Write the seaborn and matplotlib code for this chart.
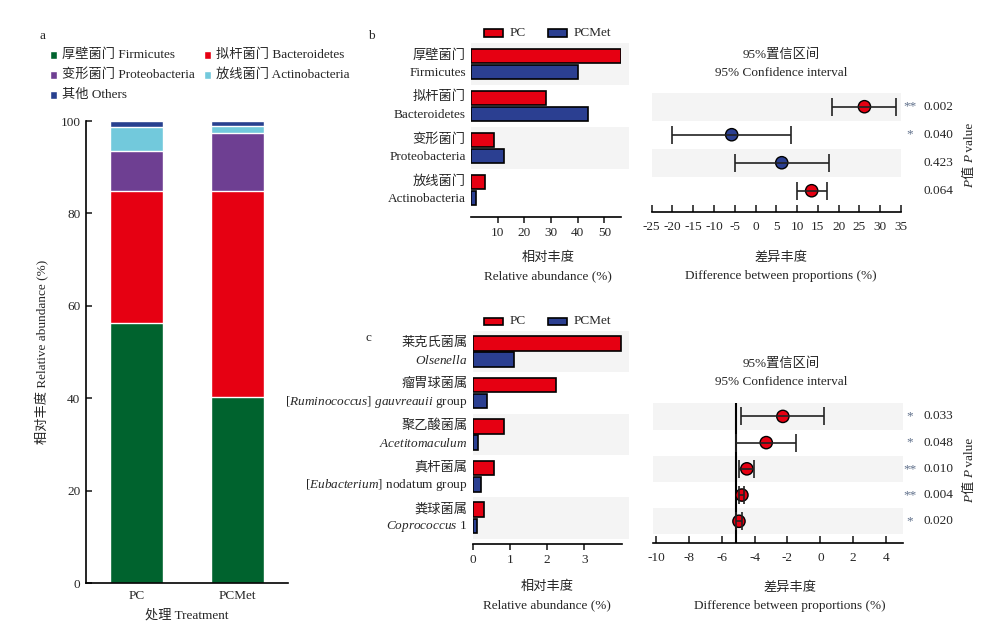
import numpy as np
import pandas as pd
import seaborn as sns
import matplotlib.pyplot as plt
from matplotlib import transforms
from matplotlib.patches import Rectangle

# ---- data ----
treatments = ['PC', 'PCMet']
stack_names = ['厚壁菌门 Firmicutes', '拟杆菌门 Bacteroidetes', '变形菌门 Proteobacteria',
               '放线菌门 Actinobacteria', '其他 Others']
stack_pc = [56.3, 28.5, 8.6, 5.4, 1.2]
stack_pcmet = [40.3, 44.5, 12.5, 1.7, 1.0]

phylum_cn = ['厚壁菌门', '拟杆菌门', '变形菌门', '放线菌门']
phylum_en = ['Firmicutes', 'Bacteroidetes', 'Proteobacteria', 'Actinobacteria']
phylum_pc = [56.1, 28.1, 8.6, 5.4]
phylum_pcmet = [40.2, 44.0, 12.5, 1.9]
phylum_diff = [26.2, -5.75, 6.3, 13.5]
phylum_lo = [18.5, -20.0, -5.0, 9.9]
phylum_hi = [33.9, 8.5, 17.7, 17.3]
phylum_dot = ['PC', 'PCMet', 'PCMet', 'PC']
phylum_sig = ['**', '*', '', '']
phylum_p = ['0.002', '0.040', '0.423', '0.064']

genus_cn = ['莱克氏菌属', '瘤胃球菌属', '聚乙酸菌属', '真杆菌属', '粪球菌属']
genus_en = [r'$\mathit{Olsenella}$',
            r'[$\mathit{Ruminococcus}$] $\mathit{gauvreauii}$ group',
            r'$\mathit{Acetitomaculum}$',
            r'[$\mathit{Eubacterium}$] nodatum group',
            r'$\mathit{Coprococcus\ 1}$']
genus_pc = [3.98, 2.24, 0.85, 0.57, 0.31]
genus_pcmet = [1.12, 0.39, 0.15, 0.21, 0.12]
genus_diff = [-2.28, -3.29, -4.47, -4.77, -4.95]
genus_lo = [-4.83, -5.12, -4.92, -4.93, -5.13]
genus_hi = [0.25, -1.47, -4.02, -4.64, -4.78]
genus_dot = ['PC', 'PC', 'PC', 'PC', 'PC']
genus_sig = ['*', '*', '**', '**', '*']
genus_p = ['0.033', '0.048', '0.010', '0.004', '0.020']

stack_colors = ['#00632e', '#e60012', '#6e3f92', '#72c9dc', '#27408f']
pal = {'PC': '#e60012', 'PCMet': '#2b3f91'}
band = '#f4f4f4'
star_col = '#5f6f8a'

sns.set_style('white')
plt.rcParams['font.family'] = ['Liberation Serif', 'Noto Sans CJK SC']
plt.rcParams['font.size'] = 9.5
plt.rcParams['mathtext.fontset'] = 'custom'
plt.rcParams['mathtext.rm'] = 'Liberation Serif'
plt.rcParams['mathtext.it'] = 'Liberation Serif:italic'
plt.rcParams['axes.linewidth'] = 1.2
plt.rcParams['axes.unicode_minus'] = False

W, H = 1000, 633
fig = plt.figure(figsize=(10, 6.33), dpi=100)


def rect(x0, y0, x1, y1):
    return [x0 / W, 1 - y1 / H, (x1 - x0) / W, (y1 - y0) / H]


def fx(x):
    return x / W


def fy(y):
    return 1 - y / H


def clean(ax, left=False):
    for s in ['top', 'right']:
        ax.spines[s].set_visible(False)
    ax.spines['left'].set_visible(left)
    for s in ax.spines.values():
        s.set_color('black')


# ---- panel a: stacked bars ----
axa = fig.add_axes(rect(86, 121, 288, 583))
cum_pc = np.cumsum(stack_pc)
cum_pcmet = np.cumsum(stack_pcmet)
for i in reversed(range(len(stack_names))):
    d = pd.DataFrame({'treat': treatments, 'top': [cum_pc[i], cum_pcmet[i]]})
    sns.barplot(d, x='treat', y='top', color=stack_colors[i], saturation=1,
                width=0.515, ax=axa)
axa.set_xlim(-0.5, 1.5)
axa.set_ylim(0, 100)
axa.set_yticks([0, 20, 40, 60, 80, 100])
clean(axa, left=True)
axa.tick_params(axis='y', direction='in', length=4, width=1.2, pad=4, left=True)
axa.tick_params(axis='x', length=0, pad=5)
axa.set_ylabel('相对丰度 Relative abundance (%)', labelpad=8)
axa.set_xlabel('处理 Treatment', labelpad=5)
fig.text(fx(40), fy(36), 'a', va='center')

# legend of panel a
leg_pos = [(50, 55), (50, 75), (50, 95), (204, 55), (204, 75)]
for (lx, ly), i in zip(leg_pos, [0, 2, 4, 1, 3]):
    fig.patches.append(Rectangle((fx(lx), fy(ly + 3.5)), 7 / W, 7 / H,
                                 transform=fig.transFigure, facecolor=stack_colors[i]))
    fig.text(fx(lx + 12), fy(ly), stack_names[i], va='center')


def bar_panel(box, cn, en, pc, pcmet, xmax, ticks, ybottom, width):
    ax = fig.add_axes(rect(*box))
    n = len(cn)
    df = pd.DataFrame({'taxon': cn + cn, 'value': pc + pcmet,
                       'group': ['PC'] * n + ['PCMet'] * n})
    sns.barplot(df, x='value', y='taxon', hue='group', palette=pal, orient='h',
                saturation=1, width=width, gap=0.1, edgecolor='black',
                linewidth=1.2, legend=False, ax=ax)
    for i in range(0, n, 2):
        ax.axhspan(i - 0.5, i + 0.5, xmin=0, xmax=1.05, color=band, zorder=0,
                   clip_on=False, lw=0)
    ax.set_xlim(0, xmax)
    ax.set_ylim(ybottom, -0.5)
    ax.set_xticks(ticks)
    ax.set_yticks([])
    ax.set_xlabel('')
    ax.set_ylabel('')
    clean(ax)
    ax.tick_params(axis='x', direction='out', length=4, width=1.2, pad=3, bottom=True)
    tr = ax.get_yaxis_transform()
    for i in range(n):
        ax.text(-0.035, i - 0.21, cn[i], transform=tr, ha='right', va='center')
        ax.text(-0.035, i + 0.21, en[i], transform=tr, ha='right', va='center')
    return ax


def ci_panel(box, diff, lo, hi, dots, sig, pv, xlim, ticks, ybottom, pycenter):
    ax = fig.add_axes(rect(*box))
    n = len(diff)
    ypos = np.arange(n)
    diff = np.array(diff)
    xerr = [diff - np.array(lo), np.array(hi) - diff]
    for i in range(0, n, 2):
        ax.axhspan(i - 0.5, i + 0.5, color=band, zorder=0, lw=0)
    sns.scatterplot(x=diff, y=ypos, hue=dots, palette=pal, s=78, edgecolor='black',
                    linewidth=1, zorder=2, legend=False, ax=ax)
    ax.errorbar(diff, ypos, xerr=xerr, fmt='none', ecolor='#222222', elinewidth=1.2,
                capsize=6.5, capthick=1.2, zorder=3)
    ax.set_xlim(*xlim)
    ax.set_ylim(ybottom, -0.5)
    ax.set_xticks(ticks)
    ax.set_yticks([])
    clean(ax)
    ax.tick_params(axis='x', direction='in', length=5, width=1.2, pad=6, bottom=True)
    tr = transforms.blended_transform_factory(fig.transFigure, ax.transData)
    for i in range(n):
        ax.text(fx(910), i, sig[i], transform=tr, ha='center', va='center', color=star_col)
        ax.text(fx(923), i, pv[i], transform=tr, ha='left', va='center')
    # rotated P label
    parts = [('P', 'italic'), ('值 ', 'normal'), ('P', 'italic'), (' value', 'normal')]
    r = fig.canvas.get_renderer()
    objs = [fig.text(fx(970), 0, s, rotation=90, ha='center', va='bottom', style=st)
            for s, st in parts]
    hs = [o.get_window_extent(r).height / H for o in objs]
    y = fy(pycenter) - sum(hs) / 2
    for o, h in zip(objs, hs):
        o.set_y(y)
        y += h
    return ax


def legend_bg(y):
    for (x0, name) in [(484.3, 'PC'), (548.3, 'PCMet')]:
        fig.patches.append(Rectangle((fx(x0), fy(y + 3.5)), 19 / W, 7 / H,
                                     transform=fig.transFigure, facecolor=pal[name],
                                     edgecolor='black', lw=1.2))
        fig.text(fx(x0 + 25), fy(y), name, va='center')


def two_line(x, y1, s1, s2):
    fig.text(fx(x), fy(y1), s1, ha='center', va='center')
    fig.text(fx(x), fy(y1 + 18), s2, ha='center', va='center')


# ---- panel b ----
fig.text(fx(368), fy(36), 'b', va='center')
legend_bg(33)
bar_panel((471, 43, 621, 217), phylum_cn, phylum_en, phylum_pc, phylum_pcmet,
          56.2, [10, 20, 30, 40, 50], 3.64, 0.76)
ci_panel((651.7, 92.7, 901, 212.3), phylum_diff, phylum_lo, phylum_hi, phylum_dot,
         phylum_sig, phylum_p, (-25, 35), np.arange(-25, 36, 5), 3.77, 155)
two_line(548, 258, '相对丰度', 'Relative abundance (%)')
two_line(781, 258, '差异丰度', 'Difference between proportions (%)')
two_line(781, 55, '95%置信区间', '95% Confidence interval')

# ---- panel c ----
fig.text(fx(365), fy(338), 'c', va='center')
legend_bg(321)
bar_panel((472.7, 330.7, 621.7, 544), genus_cn, genus_en, genus_pc, genus_pcmet,
          4.0, [0, 1, 2, 3], 4.63, 0.78)
axc = ci_panel((652.7, 403.3, 903.3, 543.3), genus_diff, genus_lo, genus_hi, genus_dot,
               genus_sig, genus_p, (-10.2, 5.05), np.arange(-10, 5, 2), 4.84, 470)
axc.axvline(-5.15, color='black', lw=1.5, zorder=1)
two_line(547, 587, '相对丰度', 'Relative abundance (%)')
two_line(790, 588, '差异丰度', 'Difference between proportions (%)')
two_line(781, 364, '95%置信区间', '95% Confidence interval')

fig.savefig('out.png', dpi=100)
